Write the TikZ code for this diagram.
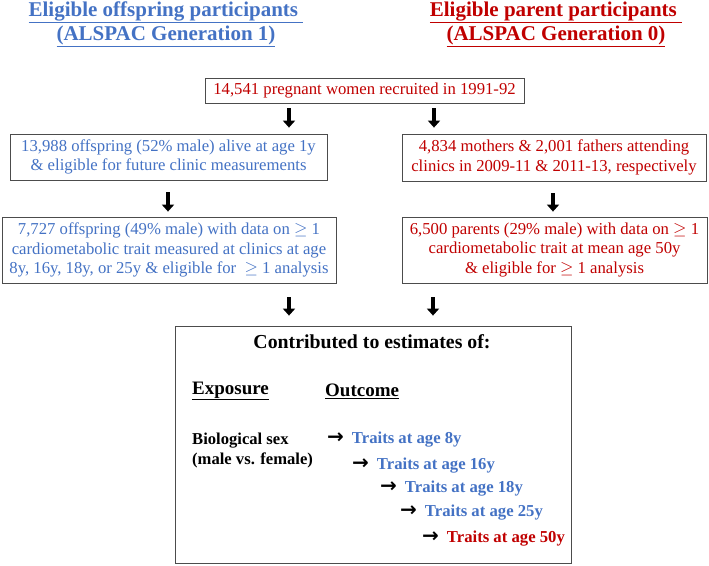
\documentclass[tikz,border=0pt]{standalone}
\usepackage{fontspec}
\setmainfont{Liberation Serif}
\newfontfamily\arrowfont{DejaVu Sans}
\usetikzlibrary{arrows.meta}
\definecolor{offblue}{HTML}{4472C4}
\definecolor{parred}{HTML}{C00000}
\newcommand{\tarrow}{{\arrowfont\fontsize{20}{20}\selectfont\bfseries →}\hspace{8pt}}
\tikzset{
  box/.style={draw=black!70, line width=.8pt, align=center, inner sep=0pt,
    font=\fontsize{16.7}{19.5}\selectfont},
  down/.style={line width=4.5pt, -{Triangle[width=12pt,length=7pt]}},
  head/.style={align=center, font=\fontsize{21}{24}\selectfont\bfseries},
  trait/.style={anchor=west, inner sep=0pt, font=\fontsize{16.7}{18}\selectfont\bfseries},
}

\begin{document}
\begin{tikzpicture}[x=1pt,y=-1pt]
\useasboundingbox (0,0) rectangle (709,565);

% column headings
\node [head,text=offblue] (offhead) at (166,24)
  {\underline{Eligible offspring participants\ }\\\underline{(ALSPAC Generation 1)}};
\node [head,text=parred]  (parhead) at (556,24)
  {\underline{Eligible parent participants\ }\\\underline{(ALSPAC Generation 0)}};

% flow boxes
\node [box,text=parred,minimum width=319pt,minimum height=25pt]
  (recruit) at (364.5,90.5) {14,541 pregnant women recruited in 1991-92};
\node [box,text=offblue,minimum width=317pt,minimum height=46pt]
  (offA) at (168.5,157) {13,988 offspring (52\% male) alive at age 1y\\
  \& eligible for future clinic measurements};
\node [box,text=parred,minimum width=304pt,minimum height=47pt]
  (parA) at (554,157.5) {4,834 mothers \& 2,001 fathers attending\\
  clinics in 2009-11 \& 2011-13, respectively};
\node [box,text=offblue,minimum width=334pt,minimum height=66pt]
  (offB) at (169,250) {7,727 offspring (49\% male) with data on $\geq$ 1\\
  cardiometabolic trait measured at clinics at age\\
  8y, 16y, 18y, or 25y \& eligible for ~$\geq$ 1 analysis};
\node [box,text=parred,minimum width=305pt,minimum height=66pt]
  (parB) at (554.5,250) {6,500 parents (29\% male) with data on $\geq$ 1\\
  cardiometabolic trait at mean age 50y\\
  \& eligible for $\geq$ 1 analysis};
\node [box,minimum width=396pt,minimum height=237pt]
  (summary) at (373,444.5) {};

% contents of the summary box
\node [font=\fontsize{19.8}{22}\selectfont\bfseries] (contrib) at (372,342)
  {Contributed to estimates of:};
\node [anchor=west,inner sep=0pt,font=\fontsize{19}{22}\selectfont\bfseries]
  (expo) at (192,391) {\underline{Exposure}};
\node [anchor=west,inner sep=0pt,font=\fontsize{19}{22}\selectfont\bfseries]
  (outc) at (325,391) {\underline{Outcome}};
\node [anchor=north west,inner sep=0pt,align=left,
       font=\fontsize{16.6}{20}\selectfont\bfseries]
  (biosex) at (192,433) {Biological sex\\(male vs. female)};
\node [trait] (age8)  at (327,440) {\tarrow\textcolor{offblue}{Traits at age 8y}};
\node [trait] (age16) at (352,466) {\tarrow\textcolor{offblue}{Traits at age 16y}};
\node [trait] (age18) at (380,489) {\tarrow\textcolor{offblue}{Traits at age 18y}};
\node [trait] (age25) at (400,513) {\tarrow\textcolor{offblue}{Traits at age 25y}};
\node [trait] (age50) at (422,539) {\tarrow\textcolor{parred}{Traits at age 50y}};

% block arrows
\draw [down,shorten <=5pt,shorten >=6pt]   (recruit.south -| 289,0) -- (offA.north -| 289,0);
\draw [down,shorten <=5pt,shorten >=6pt]   (recruit.south -| 434,0) -- (parA.north -| 434,0);
\draw [down,shorten <=12pt,shorten >=5pt]  (offA.south -| 168,0)    -- (offB.north -| 168,0);
\draw [down,shorten <=12pt,shorten >=5pt]  (parA.south -| 553,0)    -- (parB.north -| 553,0);
\draw [down,shorten <=14pt,shorten >=10pt] (offB.south -| 289,0)    -- (summary.north -| 289,0);
\draw [down,shorten <=14pt,shorten >=10pt] (parB.south -| 433,0)    -- (summary.north -| 433,0);
\end{tikzpicture}
\end{document}
